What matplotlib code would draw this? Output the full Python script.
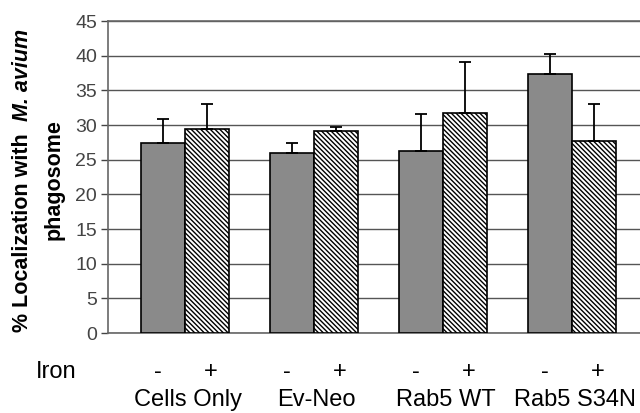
import numpy as np
import matplotlib.pyplot as plt
from matplotlib.transforms import blended_transform_factory

plt.rcParams['font.family'] = ['Liberation Sans', 'DejaVu Sans']
plt.rcParams['hatch.linewidth'] = 1.0

grupos = ['Cells Only', 'Ev-Neo', 'Rab5 WT', 'Rab5 S34N']
sem_ferro = [27.4, 26.0, 26.3, 37.3]
sem_ferro_err = [3.5, 1.4, 5.3, 3.0]
com_ferro = [29.4, 29.15, 31.8, 27.7]
com_ferro_err = [3.7, 0.5, 7.3, 5.4]
y_ticks = [0, 5, 10, 15, 20, 25, 30, 35, 40, 45]

W, H = 640, 413
fig = plt.figure(figsize=(W / 100, H / 100), dpi=100)
ax = fig.add_axes([108 / W, (H - 333) / H, 600 / W, 312 / H])

x = np.arange(len(grupos))
largura = 0.34
ax.bar(x - largura / 2, sem_ferro, largura, color='#8a8a8a', edgecolor='black',
       linewidth=1.2, zorder=3,
       yerr=[np.zeros(len(grupos)), sem_ferro_err],
       error_kw=dict(ecolor='black', elinewidth=1.3, capsize=4.5, capthick=1.3))
ax.bar(x + largura / 2, com_ferro, largura, color='white', edgecolor='black',
       hatch='\\' * 7, linewidth=1.2, zorder=3,
       yerr=[np.zeros(len(grupos)), com_ferro_err],
       error_kw=dict(ecolor='black', elinewidth=1.3, capsize=4.5, capthick=1.3))

ax.set_ylim(0, 45)
ax.set_xlim(-77 / 129, -77 / 129 + 600 / 129)
ax.set_yticks(y_ticks)
ax.tick_params(axis='y', labelsize=14, colors='#444444', length=5, width=1, pad=3)
ax.tick_params(axis='x', bottom=False, labelbottom=False)
ax.yaxis.grid(True, color='#555555', linewidth=1.0, zorder=0)
ax.spines['right'].set_visible(False)
for s in ['left', 'top', 'bottom']:
    ax.spines[s].set_color('#666666')
    ax.spines[s].set_linewidth(1.2)

trans = blended_transform_factory(ax.transData, fig.transFigure)
for i in x:
    ax.text(i - largura / 2 - 0.04, 1 - 378 / H, '-', transform=trans,
            ha='center', va='baseline', fontsize=17)
    ax.text(i + largura / 2 + 0.03, 1 - 378 / H, '+', transform=trans,
            ha='center', va='baseline', fontsize=17)
    ax.text(i + 0.02, 1 - 406 / H, grupos[i], transform=trans,
            ha='center', va='baseline', fontsize=17)
fig.text(56 / W, 1 - 378 / H, 'Iron', ha='center', va='baseline', fontsize=17)

# rotulo do eixo y em duas linhas, com M. avium em italico
fig.canvas.draw()
t1 = fig.text(23 / W, 1 - 332 / H, '% Localization with  ', rotation=90,
              ha='center', va='bottom', fontsize=15.5, weight='bold')
fig.canvas.draw()
bb = t1.get_window_extent()
fig.text(23 / W, bb.y1 / H, 'M. avium', rotation=90, ha='center', va='bottom',
         fontsize=15.5, weight='bold', style='italic')
fig.text(54 / W, 1 - 180 / H, 'phagosome', rotation=90, ha='center',
         va='center', fontsize=15.5, weight='bold')

fig.savefig('out.png', dpi=100)
